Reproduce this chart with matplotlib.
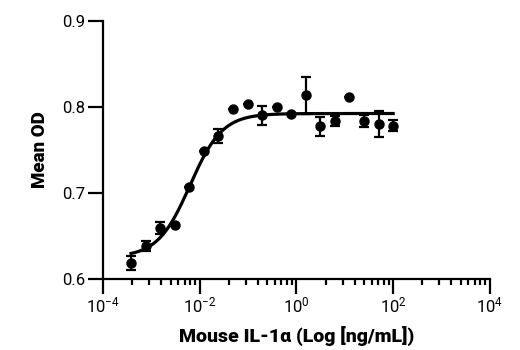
import numpy as np
import matplotlib
matplotlib.use('Agg')
import matplotlib.pyplot as plt
from matplotlib.ticker import FixedLocator, NullFormatter

# Concentraciones (ng/mL), dilucion 1:2 desde 100
conc = [0.00038, 0.00076, 0.00153, 0.00305, 0.0061, 0.0122, 0.0244, 0.0488,
        0.0977, 0.1953, 0.3906, 0.78125, 1.5625, 3.125, 6.25, 12.5, 25, 50, 100]
mean_od = [0.618, 0.638, 0.659, 0.662, 0.706, 0.748, 0.766, 0.797, 0.803, 0.790,
           0.799, 0.792, 0.813, 0.777, 0.783, 0.811, 0.783, 0.780, 0.778]
sd_od = [0.008, 0.006, 0.007, 0.0, 0.0, 0.0, 0.008, 0.0, 0.0, 0.011,
         0.0, 0.0, 0.022, 0.011, 0.006, 0.0, 0.007, 0.015, 0.006]

# Ajuste 4PL
bottom, top, log_ec50, hill = 0.625, 0.792, -2.2, 1.3

y_ticks = [0.6, 0.7, 0.8, 0.9]
x_major = [1e-4, 1e-2, 1e0, 1e2, 1e4]

plt.rcParams['font.family'] = ['Roboto', 'DejaVu Sans']
plt.rcParams['mathtext.fontset'] = 'custom'
plt.rcParams['mathtext.rm'] = 'Roboto'
plt.rcParams['mathtext.it'] = 'Roboto'
plt.rcParams['mathtext.bf'] = 'Roboto:bold'

fig = plt.figure(figsize=(5.2, 3.5), dpi=100)
ax = fig.add_axes([0.198, 0.204, 0.744, 0.737])

xs = np.logspace(np.log10(min(conc)), np.log10(max(conc)), 300)
ys = bottom + (top - bottom) / (1 + 10 ** (hill * (log_ec50 - np.log10(xs))))
ax.plot(xs, ys, color='black', lw=2.3, zorder=2)

ax.errorbar(conc, mean_od, yerr=sd_od, fmt='o', color='black', ms=6.5,
            elinewidth=1.6, capsize=3.8, capthick=1.6, zorder=3)

ax.set_xscale('log')
ax.set_xlim(1e-4, 1e4)
ax.set_ylim(0.6, 0.9)

ax.xaxis.set_major_locator(FixedLocator(x_major))
# minor ticks de Prism: cada intervalo de 2 decadas dividido como una decada
minor = []
for d in [-4, -2, 0, 2]:
    for k in range(2, 10):
        minor.append(10 ** (d + 2 * np.log10(k)))
ax.xaxis.set_minor_locator(FixedLocator(minor))
ax.xaxis.set_minor_formatter(NullFormatter())
ax.set_xticklabels(['10$^{-4}$', '10$^{-2}$', '10$^{0}$', '10$^{2}$', '10$^{4}$'])
ax.set_yticks(y_ticks)
ax.set_yticklabels(['0.6', '0.7', '0.8', '0.9'])

for s in ['top', 'right']:
    ax.spines[s].set_visible(False)
for s in ['left', 'bottom']:
    ax.spines[s].set_linewidth(1.6)

ax.tick_params(which='major', direction='out', length=10.5, width=1.6,
               labelsize=12, pad=2)
ax.tick_params(which='minor', direction='out', length=4.5, width=1.6)

ax.set_xlabel('Mouse IL-1\u03b1 (Log [ng/mL])', fontsize=14, fontweight='black', labelpad=7)
ax.set_ylabel('Mean OD', fontsize=13.5, fontweight='black', labelpad=10)

fig.savefig('out.png', dpi=100)
